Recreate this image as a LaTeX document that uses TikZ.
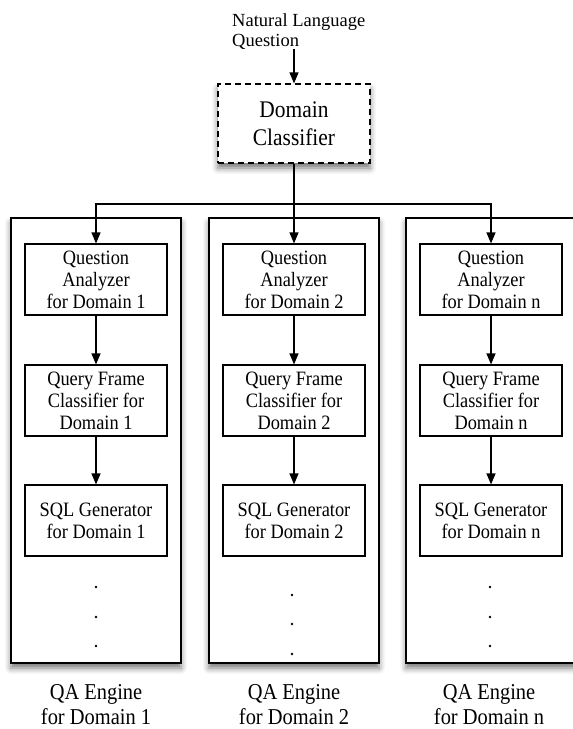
\documentclass[tikz,border=0pt]{standalone}
\usepackage{fontspec}
\setmainfont{Liberation Serif}[FakeStretch=0.9]
\newfontfamily\wideserif{Liberation Serif}
\usetikzlibrary{arrows.meta,shadows.blur}
\begin{document}
\begin{tikzpicture}[x=1pt,y=-1pt,
  engine/.style={draw, line width=1.4pt, fill=white, minimum width=170pt, minimum height=445pt, inner sep=0pt,
    blur shadow={shadow xshift=0pt, shadow yshift=-5pt, shadow blur radius=6pt, shadow opacity=55}},
  stage/.style={draw, line width=1.2pt, fill=white, minimum width=142pt, minimum height=71pt, inner sep=0pt,
    align=center, font=\fontsize{20.4}{22}\selectfont},
  classbox/.style={draw, line width=1.2pt, dash pattern=on 6pt off 4pt, fill=white, minimum width=152pt, minimum height=79pt,
    inner sep=0pt, align=center, font=\fontsize{23.8}{28}\selectfont,
    blur shadow={shadow xshift=0pt, shadow yshift=-5pt, shadow blur radius=6pt, shadow opacity=55}},
  arr/.style={line width=1.3pt, -{Triangle[length=11pt,width=9pt]}},
  plain/.style={line width=1.3pt},
  dotmark/.style={circle, fill=black, inner sep=0pt, minimum size=2.6pt},
  lbl/.style={align=center, inner sep=0pt, anchor=north, font=\fontsize{22.7}{25.5}\selectfont}
]
\useasboundingbox (0,0) rectangle (573,729);

% input text and classifier
\node[anchor=north west, align=left, inner sep=0pt, font=\wideserif\fontsize{18.5}{20.5}\selectfont] (nlq) at (232,13) {Natural Language\\Question};
\coordinate (in) at (294,49);
\node[classbox] (dc) at (294,123.5) {Domain\\Classifier};
\draw[arr] (in) -- (dc.north);

% engines
\node[engine] (e1) at (96,440.5) {};
\node[engine] (e2) at (294,440.5) {};
\node[engine] (e3) at (491,440.5) {};

% stages
\node[stage] (q1) at (96,279.5) {Question\\Analyzer\\for Domain 1};
\node[stage] (f1) at (96,400.5) {Query Frame\\Classifier for\\Domain 1};
\node[stage] (s1) at (96,520.5) {SQL Generator\\for Domain 1};
\node[stage] (q2) at (294,279.5) {Question\\Analyzer\\for Domain 2};
\node[stage] (f2) at (294,400.5) {Query Frame\\Classifier for\\Domain 2};
\node[stage] (s2) at (294,520.5) {SQL Generator\\for Domain 2};
\node[stage] (q3) at (491,279.5) {Question\\Analyzer\\for Domain n};
\node[stage] (f3) at (491,400.5) {Query Frame\\Classifier for\\Domain n};
\node[stage] (s3) at (491,520.5) {SQL Generator\\for Domain n};

% distribution
\coordinate (split) at (294,204);
\draw[plain] (dc.south) -- (split);
\draw[arr] (split) -| (q1.north);
\draw[arr] (split) -- (q2.north);
\draw[arr] (split) -| (q3.north);

\draw[arr] (q1) -- (f1);
\draw[arr] (f1) -- (s1);
\draw[arr] (q2) -- (f2);
\draw[arr] (f2) -- (s2);
\draw[arr] (q3) -- (f3);
\draw[arr] (f3) -- (s3);

% dots
\node[dotmark] (d11) at (96,587) {};
\node[dotmark] (d12) at (96,617) {};
\node[dotmark] (d13) at (96,646) {};
\node[dotmark] (d21) at (292,595) {};
\node[dotmark] (d22) at (292,624) {};
\node[dotmark] (d23) at (292,654) {};
\node[dotmark] (d31) at (490,587) {};
\node[dotmark] (d32) at (490,617) {};
\node[dotmark] (d33) at (490,646) {};

% labels
\node[lbl] (l1) at (96,684) {QA Engine\\for Domain 1};
\node[lbl] (l2) at (294,684) {QA Engine\\for Domain 2};
\node[lbl] (l3) at (489,684) {QA Engine\\for Domain n};
\end{tikzpicture}
\end{document}
